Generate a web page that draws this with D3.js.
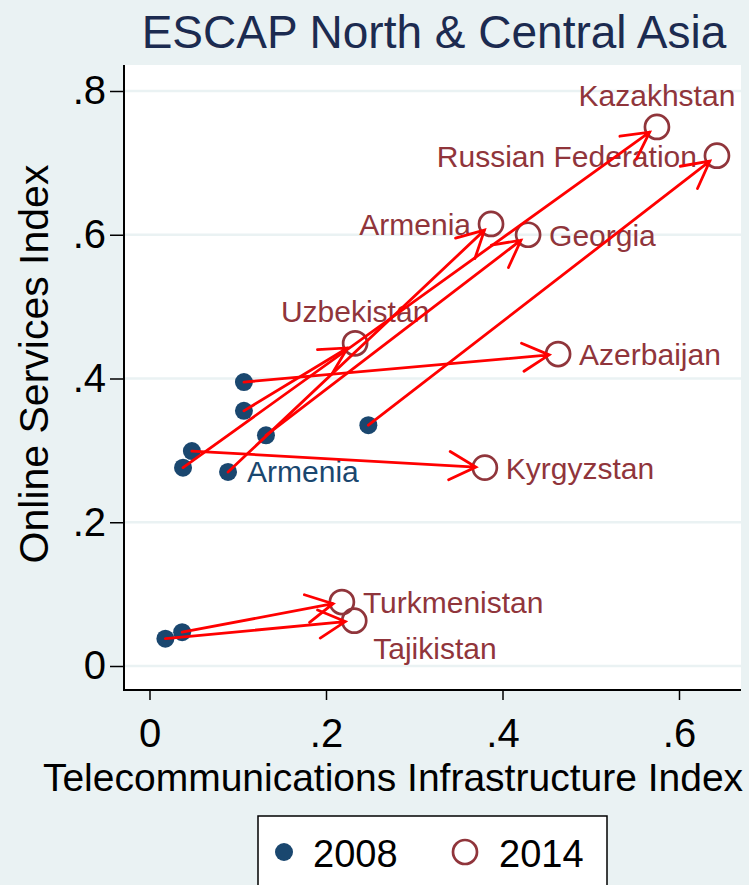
<!DOCTYPE html>
<html>
<head>
<meta charset="utf-8">
<script src="https://cdn.jsdelivr.net/npm/d3@7"></script>
<style>
  body { margin: 0; background: #eaf2f3; }
  svg text { font-family: "Liberation Sans", Arial, sans-serif; }
</style>
</head>
<body>
<div id="chart"></div>
<script>
// Data
const countries = ["Kazakhstan", "Russian Federation", "Armenia", "Georgia", "Uzbekistan",
                   "Azerbaijan", "Kyrgyzstan", "Turkmenistan", "Tajikistan"];
const tii2008 = [0.038, 0.248, 0.089, 0.132, 0.107, 0.107, 0.048, 0.037, 0.018];
const osi2008 = [0.276, 0.335, 0.270, 0.321, 0.355, 0.395, 0.299, 0.047, 0.038];
const tii2014 = [0.575, 0.643, 0.387, 0.429, 0.233, 0.463, 0.380, 0.218, 0.232];
const osi2014 = [0.750, 0.710, 0.615, 0.600, 0.449, 0.434, 0.276, 0.089, 0.063];
const labelled2008 = ["Armenia"];
const xTicks = [0, 0.2, 0.4, 0.6];
const yTicks = [0, 0.2, 0.4, 0.6, 0.8];

// label clock positions (Stata style)
const labelPos2014 = [12, 9, 9, 3, 12, 3, 3, 3, 4];

const colors = {
    bg: "#eaf2f3",
    grid: "#eaf2f3",
    y2008: "#1a476f",
    y2014: "#90353b",
    arrow: "#ff0000",
    title: "#1c2b50"
};

const W = 749, H = 885;
const plot = { left: 124, right: 741, top: 65, bottom: 690 };

const svg = d3.select("#chart").append("svg")
    .attr("width", W)
    .attr("height", H);

svg.append("rect").attr("width", W).attr("height", H).attr("fill", colors.bg);
svg.append("rect")
    .attr("x", plot.left).attr("y", plot.top)
    .attr("width", plot.right - plot.left).attr("height", plot.bottom - plot.top)
    .attr("fill", "white");

const x = d3.scaleLinear().domain([0, 0.6]).range([149.5, 679]);
const y = d3.scaleLinear().domain([0, 0.8]).range([666, 91]);

const fmt = d => d === 0 ? "0" : d3.format(".1f")(d).replace(/^0/, "");

// gridlines
svg.append("g").selectAll("line")
    .data(yTicks)
    .enter().append("line")
    .attr("x1", plot.left).attr("x2", plot.right)
    .attr("y1", d => y(d)).attr("y2", d => y(d))
    .attr("stroke", colors.grid)
    .attr("stroke-width", 2.5);

// axes
const yAxis = svg.append("g")
    .attr("transform", `translate(${plot.left},0)`)
    .call(d3.axisLeft(y).tickValues(yTicks).tickFormat(fmt).tickSize(14).tickPadding(4));
const xAxis = svg.append("g")
    .attr("transform", `translate(0,${plot.bottom})`)
    .call(d3.axisBottom(x).tickValues(xTicks).tickFormat(fmt).tickSize(10).tickPadding(19));
[xAxis, yAxis].forEach(g => {
    g.select(".domain").remove();
    g.selectAll(".tick line").attr("stroke", "black").attr("stroke-width", 1.5);
    g.selectAll(".tick text").attr("font-size", 40).attr("fill", "black")
        .style("font-family", "'Liberation Sans', Arial, sans-serif");
});
svg.append("path")
    .attr("d", `M${plot.left},${plot.top}V${plot.bottom}H${plot.right}`)
    .attr("fill", "none")
    .attr("stroke", "black")
    .attr("stroke-width", 2);

// titles
svg.append("text")
    .attr("x", 434).attr("y", 48)
    .attr("text-anchor", "middle")
    .attr("font-size", 46)
    .attr("fill", colors.title)
    .text("ESCAP North & Central Asia");

svg.append("text")
    .attr("x", 393).attr("y", 791)
    .attr("text-anchor", "middle")
    .attr("font-size", 39)
    .text("Telecommunications Infrastructure Index");

svg.append("text")
    .attr("transform", "translate(48,364) rotate(-90)")
    .attr("text-anchor", "middle")
    .attr("font-size", 41)
    .text("Online Services Index");

const rows = countries.map((c, i) => ({
    name: c,
    x0: tii2008[i], y0: osi2008[i],
    x1: tii2014[i], y1: osi2014[i],
    pos: labelPos2014[i]
}));

// 2008 points
svg.append("g").selectAll("circle")
    .data(rows)
    .enter().append("circle")
    .attr("cx", d => x(d.x0)).attr("cy", d => y(d.y0))
    .attr("r", 9)
    .attr("fill", colors.y2008);

// 2014 points
svg.append("g").selectAll("circle")
    .data(rows)
    .enter().append("circle")
    .attr("cx", d => x(d.x1)).attr("cy", d => y(d.y1))
    .attr("r", 12)
    .attr("fill", "none")
    .attr("stroke", colors.y2014)
    .attr("stroke-width", 2.7);

// labels
function labelAttrs(sel, pos, px, py) {
    if (pos === 12) {
        sel.attr("x", px).attr("y", py - 21).attr("text-anchor", "middle");
    } else if (pos === 9) {
        sel.attr("x", px - 20).attr("y", py + 11).attr("text-anchor", "end");
    } else if (pos === 4) {
        sel.attr("x", px + 19).attr("y", py + 38).attr("text-anchor", "start");
    } else {
        sel.attr("x", px + 21).attr("y", py + 11).attr("text-anchor", "start");
    }
}

const lab = svg.append("g");
rows.forEach(d => {
    const t = lab.append("text")
        .attr("font-size", 30)
        .attr("fill", colors.y2014)
        .text(d.name);
    labelAttrs(t, d.pos, x(d.x1), y(d.y1));
});
rows.filter(d => labelled2008.includes(d.name)).forEach(d => {
    const t = lab.append("text")
        .attr("font-size", 30)
        .attr("fill", colors.y2008)
        .text(d.name);
    labelAttrs(t, 3, x(d.x0) - 2, y(d.y0) - 1);
});

// arrows 2008 -> 2014
const headLen = 30, headAng = 28 * Math.PI / 180, stopShort = 9;
const arr = svg.append("g")
    .attr("stroke", colors.arrow)
    .attr("stroke-width", 2.8)
    .attr("fill", "none")
    .attr("stroke-linecap", "round");
rows.forEach(d => {
    const sx = x(d.x0), sy = y(d.y0);
    const ex = x(d.x1), ey = y(d.y1);
    const ang = Math.atan2(ey - sy, ex - sx);
    const tx = ex - stopShort * Math.cos(ang), ty = ey - stopShort * Math.sin(ang);
    const h1x = tx - headLen * Math.cos(ang - headAng), h1y = ty - headLen * Math.sin(ang - headAng);
    const h2x = tx - headLen * Math.cos(ang + headAng), h2y = ty - headLen * Math.sin(ang + headAng);
    arr.append("path")
        .attr("d", `M${sx},${sy}L${tx},${ty}M${h1x},${h1y}L${tx},${ty}L${h2x},${h2y}`);
});

// legend
const leg = svg.append("g");
leg.append("rect")
    .attr("x", 258).attr("y", 816)
    .attr("width", 349).attr("height", 100)
    .attr("fill", "white")
    .attr("stroke", "black")
    .attr("stroke-width", 1.5);
leg.append("circle").attr("cx", 284).attr("cy", 852).attr("r", 9).attr("fill", colors.y2008);
leg.append("text").attr("x", 313).attr("y", 867).attr("font-size", 38).text("2008");
leg.append("circle").attr("cx", 465).attr("cy", 852).attr("r", 12)
    .attr("fill", "none").attr("stroke", colors.y2014).attr("stroke-width", 2.7);
leg.append("text").attr("x", 499).attr("y", 867).attr("font-size", 38).text("2014");
</script>
</body>
</html>
